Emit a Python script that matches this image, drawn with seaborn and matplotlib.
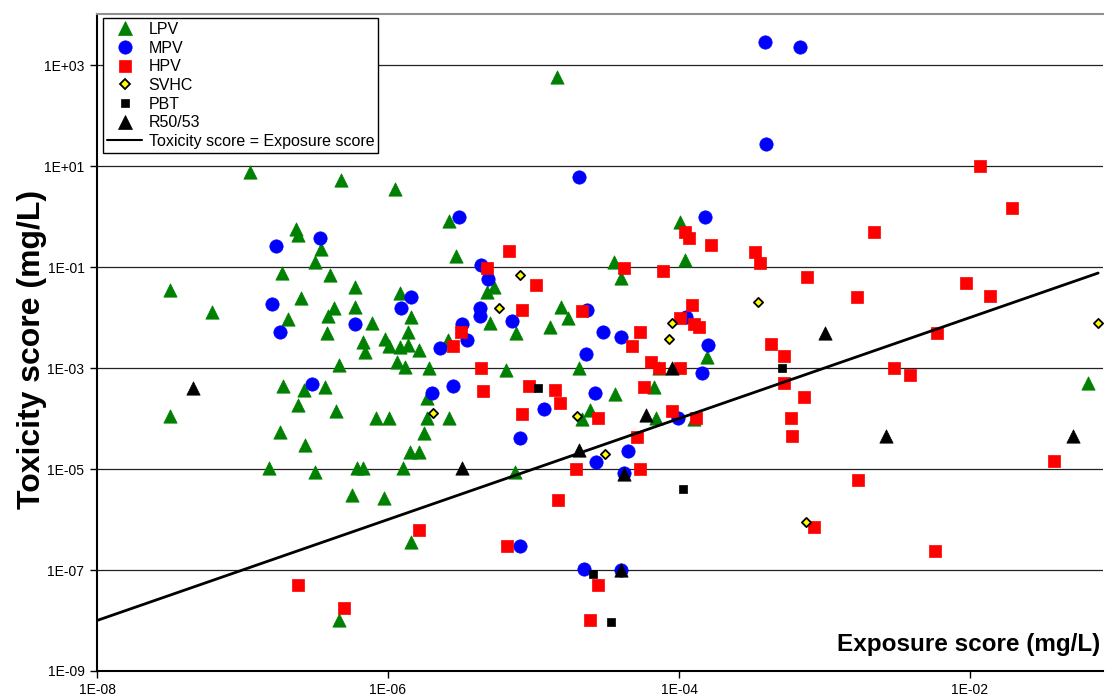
import numpy as np
import pandas as pd
import matplotlib
matplotlib.use("Agg")
import matplotlib.pyplot as plt
import seaborn as sns
from matplotlib.lines import Line2D
from matplotlib.ticker import FixedLocator, FuncFormatter, NullLocator

# ---- data (as log10 of mg/L) ----
lpv_log_exposure = [-7.50, -7.50, -7.21, -6.95, -6.82, -6.74, -6.72, -6.73, -6.69, -6.63,
                    -6.62, -6.62, -6.60, -6.58, -6.57, -6.50, -6.50, -6.46, -6.43, -6.42,
                    -6.40, -6.37, -6.41, -6.34, -6.36, -6.32, -6.23, -6.23, -6.25, -6.21,
                    -6.17, -6.17, -6.16, -6.11, -6.08, -5.99, -6.03, -6.02, -5.99, -5.95,
                    -5.92, -5.92, -5.94, -5.88, -5.90, -5.86, -5.86, -5.84, -5.85, -5.79,
                    -5.79, -5.75, -5.73, -5.73, -5.72, -5.58, -5.58, -5.53, -5.59, -5.32,
                    -5.27, -5.30, -5.19, -5.12, -4.89, -5.13, -5.84, -6.34, -4.84, -4.81,
                    -4.76, -4.69, -4.67, -4.61, -4.44, -4.45, -4.40, -4.17, -4.16, -4.14,
                    -3.99, -3.96, -3.90, -3.81, -1.19]
lpv_log_toxicity = [-1.46, -3.95, -1.89, 0.88, -4.98, -4.27, -3.36, -1.12, -2.03, -0.25,
                    -0.37, -3.73, -1.61, -3.44, -4.53, -0.90, -5.06, -0.64, -3.38, -2.31,
                    -1.16, -1.81, -1.97, -2.94, -3.85, 0.72, -1.40, -1.79, -5.52, -4.98,
                    -4.98, -2.49, -2.68, -2.11, -3.99, -3.99, -5.57, -2.43, -2.56, 0.54,
                    -1.52, -2.58, -2.88, -2.98, -4.98, -2.29, -2.55, -1.99, -4.66, -4.66,
                    -2.64, -4.29, -3.59, -3.99, -3.00, -3.99, -0.09, -0.78, -2.45, -1.50,
                    -1.40, -2.11, -3.04, -2.31, -2.19, -5.06, -6.45, -7.99, 2.76, -1.79,
                    -2.01, -3.00, -4.01, -3.83, -3.52, -0.90, -1.22, -3.38, -3.99, -3.00,
                    -0.11, -0.86, -4.01, -2.78, -3.30]

mpv_log_exposure = [-6.80, -6.77, -6.74, -6.52, -6.47, -6.23, -5.91, -5.84, -5.70, -5.55,
                    -5.64, -5.46, -5.49, -5.51, -5.36, -5.31, -5.37, -5.37, -5.15, -5.09,
                    -4.93, -5.09, -4.69, -4.63, -4.52, -4.40, -4.64, -4.58, -4.57, -4.65,
                    -4.40, -4.35, -4.38, -4.01, -3.95, -3.82, -3.80, -3.84, -3.41, -3.17,
                    -3.40]
mpv_log_toxicity = [-1.73, -0.58, -2.29, -3.32, -0.43, -2.13, -1.81, -1.59, -3.50, -3.36,
                    -2.60, -2.45, -2.13, -0.01, -0.96, -1.24, -1.81, -1.97, -2.07, -4.39,
                    -3.81, -6.52, 0.78, -1.85, -2.29, -2.39, -2.72, -3.50, -4.86, -6.98,
                    -7.00, -4.64, -5.08, -3.99, -1.99, -0.01, -2.55, -3.10, 3.45, 3.36,
                    1.44]

hpv_log_exposure = [-6.62, -6.30, -5.79, -5.55, -5.50, -5.36, -5.35, -5.32, -5.17, -5.08,
                    -4.98, -5.03, -5.08, -5.18, -4.85, -4.82, -4.83, -4.71, -4.56, -4.61,
                    -4.67, -4.56, -4.38, -4.11, -3.96, -3.93, -3.78, -3.91, -3.99, -3.90,
                    -3.86, -4.27, -4.32, -4.19, -4.14, -3.99, -4.24, -4.05, -3.88, -4.29,
                    -4.27, -3.48, -3.44, -3.12, -2.66, -1.93, -1.71, -2.78, -2.03, -1.86,
                    -2.23, -3.37, -3.28, -3.28, -3.14, -3.23, -3.22, -2.52, -2.41, -2.77,
                    -3.07, -2.24, -1.42]
hpv_log_toxicity = [-7.30, -7.75, -6.21, -2.56, -2.29, -3.00, -3.46, -1.02, -0.68, -1.85,
                    -1.36, -3.36, -3.91, -6.52, -3.44, -3.69, -5.61, -5.00, -7.30, -7.99,
                    -1.87, -3.99, -1.02, -1.08, -0.31, -0.43, -0.57, -1.75, -2.01, -2.13,
                    -2.19, -2.29, -2.56, -2.88, -3.00, -3.00, -3.38, -3.85, -3.99, -4.37,
                    -5.00, -0.70, -0.92, -1.20, -0.31, 1.00, 0.17, -1.59, -1.32, -1.57,
                    -2.31, -2.53, -2.76, -3.30, -3.57, -3.99, -4.35, -3.00, -3.14, -5.22,
                    -6.15, -6.62, -4.84]

svhc_log_exposure = [-5.69, -5.24, -5.09, -4.70, -4.51, -4.05, -4.07, -3.46, -3.13, -1.12]
svhc_log_toxicity = [-3.89, -1.81, -1.16, -3.95, -4.70, -2.11, -2.43, -1.69, -6.05, -2.11]

pbt_log_exposure = [-4.97, -4.59, -4.47, -3.97, -3.29]
pbt_log_toxicity = [-3.40, -7.08, -8.03, -5.40, -3.00]

r5053_log_exposure = [-7.34, -5.49, -4.69, -4.23, -4.05, -4.38, -4.40, -3.00, -2.58, -1.29]
r5053_log_toxicity = [-3.40, -4.98, -4.62, -3.93, -3.00, -5.10, -7.00, -2.31, -4.35, -4.35]

identity_line_exposure = [1e-8, 7.6e-2]

x_tick_values = [1e-8, 1e-6, 1e-4, 1e-2]
y_tick_values = [1e-9, 1e-7, 1e-5, 1e-3, 1e-1, 1e1, 1e3]

series_names = ["LPV", "MPV", "HPV", "SVHC", "PBT", "R50/53"]
line_name = "Toxicity score = Exposure score"

# ---- styling ----
sns.set_theme(style="white")
plt.rcParams['font.family'] = ['Liberation Sans', 'DejaVu Sans']
plt.rcParams['text.color'] = 'black'
plt.rcParams['axes.labelcolor'] = 'black'

styles = {
    "LPV":    dict(marker="^", s=92, color="#008000", edgecolor="#008000", linewidth=0.5),
    "MPV":    dict(marker="o", s=92, color="#0000FF", edgecolor="#0000FF", linewidth=0.5),
    "HPV":    dict(marker="s", s=64, color="#FF0000", edgecolor="#FF0000", linewidth=0.5),
    "SVHC":   dict(marker="D", s=22, color="#FFFF00", edgecolor="#000000", linewidth=1.3),
    "PBT":    dict(marker="s", s=34, color="#000000", edgecolor="#000000", linewidth=0.5),
    "R50/53": dict(marker="^", s=92, color="#000000", edgecolor="#000000", linewidth=0.5),
}

data = {
    "LPV": (lpv_log_exposure, lpv_log_toxicity),
    "MPV": (mpv_log_exposure, mpv_log_toxicity),
    "HPV": (hpv_log_exposure, hpv_log_toxicity),
    "SVHC": (svhc_log_exposure, svhc_log_toxicity),
    "PBT": (pbt_log_exposure, pbt_log_toxicity),
    "R50/53": (r5053_log_exposure, r5053_log_toxicity),
}

fig, ax = plt.subplots(figsize=(11.09, 7.0), dpi=100)
fig.subplots_adjust(left=97/1109, right=1103/1109, bottom=29/700, top=686/700)

ax.set_xscale("log")
ax.set_yscale("log")

for i, name in enumerate(series_names):
    lx, ly = data[name]
    df = pd.DataFrame({"exposure": np.power(10.0, lx), "toxicity": np.power(10.0, ly)})
    st = styles[name]
    sns.scatterplot(data=df, x="exposure", y="toxicity", ax=ax, marker=st["marker"],
                    s=st["s"], color=st["color"], edgecolor=st["edgecolor"],
                    linewidth=st["linewidth"], zorder=3 + i, legend=False)

line_df = pd.DataFrame({"exposure": identity_line_exposure, "toxicity": identity_line_exposure})
sns.lineplot(data=line_df, x="exposure", y="toxicity", ax=ax, color="black", linewidth=2.0,
             zorder=10, legend=False)

ax.set_xlim(1e-8, 10 ** (-8 + 1006 / 145.5))
ax.set_ylim(1e-9, 10 ** 4.01)

fmt = FuncFormatter(lambda v, p: "1E{:+03d}".format(int(round(np.log10(v)))))
ax.xaxis.set_major_locator(FixedLocator(x_tick_values))
ax.yaxis.set_major_locator(FixedLocator(y_tick_values))
ax.xaxis.set_minor_locator(NullLocator())
ax.yaxis.set_minor_locator(NullLocator())
ax.xaxis.set_major_formatter(fmt)
ax.yaxis.set_major_formatter(fmt)
ax.tick_params(axis="both", which="major", direction="out", length=5, width=1,
               color="black", labelsize=10, labelcolor="black", pad=4,
               bottom=True, left=True)

ax.grid(False)
ax.yaxis.grid(True, color="#222222", linewidth=0.9)
ax.set_axisbelow(True)

for side in ["left", "bottom"]:
    ax.spines[side].set_color("black")
    ax.spines[side].set_linewidth(1.5)
ax.spines["top"].set_color("#909090")
ax.spines["top"].set_linewidth(1.5)
ax.spines["right"].set_visible(False)

ax.set_xlabel("Exposure score (mg/L)", fontsize=17.5, fontweight="bold", ha="right",
              va="center", color="black")
ax.xaxis.set_label_coords(0.997, 0.04)
ax.set_ylabel("Toxicity score (mg/L)", fontsize=23, fontweight="bold", va="center",
              color="black")
ax.yaxis.set_label_coords(-0.065, 0.49)

handles = []
for name in series_names:
    st = styles[name]
    ms = np.sqrt(st["s"])
    handles.append(Line2D([], [], linestyle="none", marker=st["marker"], markersize=ms,
                          markerfacecolor=st["color"], markeredgecolor=st["edgecolor"],
                          markeredgewidth=st["linewidth"], label=name))
handles.append(Line2D([], [], color="black", linewidth=1.5, label=line_name))

leg = ax.legend(handles=handles, loc="upper left", bbox_to_anchor=(0.006, 0.994),
                borderaxespad=0, frameon=True, fancybox=False, framealpha=1,
                edgecolor="black", fontsize=11.5, labelspacing=0.23, handlelength=2.2,
                handletextpad=0.4, borderpad=0.25)
leg.get_frame().set_linewidth(1.0)
for t in leg.get_texts():
    t.set_color("black")
leg.set_zorder(20)

fig.savefig("out.png", dpi=100)
